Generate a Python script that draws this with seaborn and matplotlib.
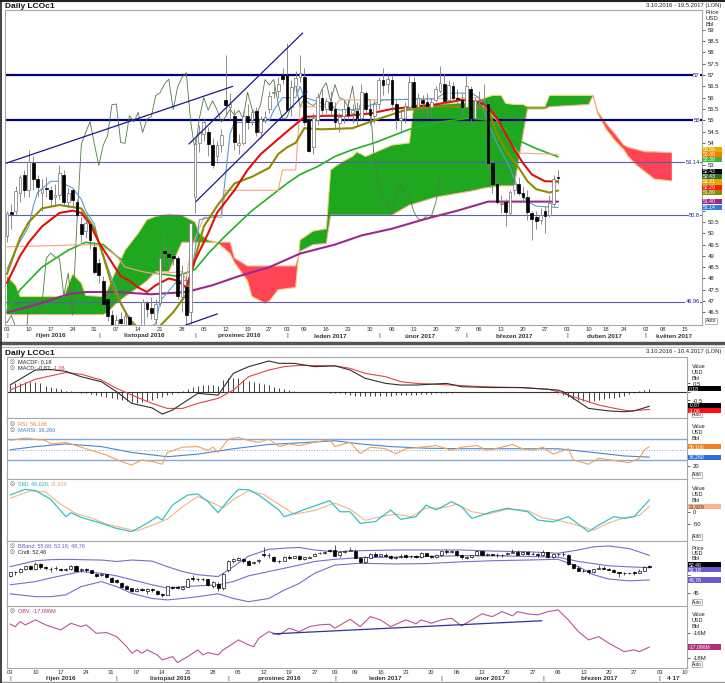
import numpy as np
import pandas as pd
import matplotlib
matplotlib.use("Agg")
import matplotlib.pyplot as plt
import matplotlib.transforms as mtrans
from matplotlib.patches import Rectangle
import seaborn as sns

# ---------------- data (index 0 = 3 Oct 2016, trading days) ----------------
opens = [49.9, 50.9, 51.0, 51.8, 52.6, 51.9, 53.1, 52.4, 51.8, 52.0,
         51.9, 51.6, 51.7, 52.6, 51.4, 51.9, 51.4, 50.4, 50.1, 50.4,
         49.4, 48.7, 47.9, 47.1, 46.4, 45.7, 46.2, 45.8, 46.3, 45.8,
         44.8, 44.6, 46.9, 46.7, 46.2, 46.9, 49.2, 49.1, 49.0, 48.9,
         47.2, 47.6, 46.5, 51.6, 54.0, 54.4, 54.5, 53.9, 53.4, 53.9,
         55.9, 55.6, 55.2, 53.9, 54.0, 55.2, 55.0, 55.4, 54.5, 55.0,
         55.5, 56.2, 56.3, 57.0, 57.0, 55.6, 56.5, 56.9, 56.9, 55.0,
         53.8, 55.0, 56.0, 55.5, 55.8, 55.5, 54.9, 55.2, 55.6, 55.3,
         55.4, 55.1, 56.2, 55.5, 55.2, 55.7, 56.8, 56.6, 56.8, 55.7,
         55.0, 55.1, 55.6, 56.7, 55.6, 55.9, 55.8, 55.6, 55.9, 56.3,
         56.6, 55.9, 56.5, 56.0, 55.9, 55.6, 56.4, 55.1, 55.9, 55.9,
         55.7, 53.1, 52.2, 51.3, 51.4, 50.9, 51.9, 52.2, 51.8, 51.6,
         50.9, 50.7, 50.6, 51.0, 50.8, 51.3, 52.5]
highs = [51.0, 51.3, 52.1, 52.6, 52.8, 53.7, 53.4, 52.6, 52.4, 52.5,
         52.1, 52.2, 53.0, 52.8, 52.0, 52.0, 51.5, 50.7, 50.8, 50.5,
         49.6, 48.9, 48.1, 47.3, 46.6, 46.4, 46.5, 46.6, 46.4, 45.9,
         45.2, 47.1, 47.0, 47.2, 47.1, 49.3, 50.0, 49.4, 49.2, 49.0,
         48.6, 48.1, 50.6, 54.2, 54.8, 55.1, 54.7, 54.2, 54.1, 54.6,
         57.9, 56.2, 55.5, 54.4, 55.4, 55.7, 55.5, 55.6, 55.2, 55.4,
         56.3, 56.5, 56.9, 57.3, 58.4, 56.8, 57.2, 57.9, 57.3, 55.2,
         55.3, 56.2, 56.4, 56.0, 56.3, 55.8, 55.3, 55.9, 55.9, 55.7,
         55.8, 56.6, 56.3, 55.7, 55.9, 56.9, 57.3, 57.0, 57.0, 55.9,
         55.5, 55.8, 57.0, 56.9, 56.2, 56.1, 56.2, 56.0, 56.5, 57.4,
         57.1, 56.8, 56.7, 56.4, 56.2, 57.0, 56.5, 56.0, 56.3, 56.6,
         55.9, 53.3, 52.5, 51.7, 51.5, 51.9, 52.8, 52.5, 52.1, 51.9,
         51.0, 51.0, 51.1, 51.2, 51.7, 52.6, 52.8]
lows = [49.6, 50.2, 50.8, 51.4, 51.6, 51.6, 51.9, 51.6, 51.0, 51.6,
        51.2, 51.2, 51.5, 51.2, 51.1, 51.1, 50.7, 49.6, 49.8, 49.3,
        48.2, 47.8, 46.6, 46.1, 45.4, 45.5, 45.6, 44.8, 45.5, 44.5,
        43.9, 44.5, 46.3, 46.2, 46.0, 46.8, 48.5, 48.5, 48.6, 47.1,
        46.5, 45.8, 46.0, 50.9, 53.6, 54.1, 53.4, 52.9, 53.1, 53.6,
        55.2, 55.0, 53.7, 53.5, 53.9, 54.6, 54.8, 54.3, 54.2, 54.9,
        55.3, 56.0, 56.0, 56.6, 55.4, 55.2, 56.2, 56.7, 54.8, 53.6,
        53.5, 54.8, 55.2, 55.3, 55.2, 54.6, 54.5, 54.9, 55.0, 54.9,
        54.8, 55.0, 55.3, 54.8, 54.9, 55.5, 56.1, 56.2, 55.4, 54.6,
        54.5, 54.9, 55.5, 55.5, 55.3, 55.3, 55.2, 55.1, 55.8, 56.2,
        55.7, 55.8, 55.8, 55.6, 55.2, 55.5, 54.9, 55.0, 55.5, 55.4,
        52.8, 51.8, 51.3, 50.9, 50.3, 50.8, 51.7, 51.7, 51.4, 50.6,
        49.7, 50.2, 50.4, 50.0, 50.7, 51.2, 52.2]
closes = [50.89, 50.87, 51.86, 52.51, 51.93, 53.14, 52.41, 52.03, 51.94, 51.95,
          51.52, 51.68, 52.67, 51.38, 51.78, 51.46, 50.79, 49.98, 50.47, 49.71,
          48.30, 48.14, 46.86, 46.35, 45.58, 46.15, 46.04, 46.36, 45.84, 44.75,
          44.43, 46.95, 46.63, 46.49, 46.86, 48.90, 49.12, 48.95, 48.89, 47.24,
          48.24, 46.38, 50.47, 53.94, 54.46, 54.94, 53.93, 53.00, 53.89, 54.33,
          55.69, 55.72, 54.02, 53.98, 55.21, 54.92, 55.35, 54.46, 55.05, 55.16,
          56.09, 56.22, 56.60, 56.82, 55.47, 56.46, 56.89, 57.10, 54.94, 53.64,
          55.10, 56.01, 55.45, 55.86, 55.47, 54.92, 55.16, 55.49, 55.23, 55.44,
          55.08, 56.24, 55.52, 55.23, 55.70, 56.80, 56.56, 56.81, 55.72, 55.05,
          55.12, 55.63, 56.70, 55.59, 55.97, 55.75, 55.65, 55.81, 56.38, 56.66,
          55.84, 56.58, 55.99, 55.93, 55.59, 56.51, 55.08, 55.90, 55.90, 55.92,
          53.11, 52.19, 51.37, 51.35, 50.92, 51.81, 52.19, 51.76, 51.62, 50.96,
          50.64, 50.56, 50.80, 50.75, 51.33, 52.42, 52.43]

# moving averages / ichimoku lines, read at sample days
red_i = [0, 3, 5, 8, 12, 15, 17, 19, 21, 24, 26, 28, 30, 32, 34, 37, 39, 41, 43, 46, 48, 52,
         55, 58, 61, 64, 68, 73, 78, 83, 88, 93, 98, 104, 108, 110, 112, 114, 116, 118, 120, 123, 126]
red_v = [47.8, 49.0, 49.6, 50.3, 50.9, 51.0, 50.9, 50.4, 49.6, 48.7, 48.1, 47.9, 47.6, 47.4, 47.7,
         48.0, 47.9, 47.6, 48.8, 50.0, 50.9, 51.9, 52.8, 53.5, 54.0, 54.5, 55.15, 55.2, 55.2, 55.3,
         55.5, 55.6, 55.7, 55.9, 55.8, 55.6, 55.1, 54.4, 53.7, 53.1, 52.6, 52.3, 52.29]
olive_i = [0, 3, 5, 8, 12, 17, 20, 22, 24, 26, 28, 31, 35, 38, 41, 43, 45, 48, 52, 56, 60, 62, 64,
           66, 68, 72, 79, 84, 91, 98, 106, 110, 112, 114, 117, 119, 121, 124, 126]
olive_v = [48.2, 49.8, 50.5, 51.1, 51.25, 51.1, 50.2, 49.0, 47.7, 46.9, 46.2, 45.6, 45.9, 46.5,
           47.3, 48.9, 50.3, 51.2, 52.2, 52.5, 52.9, 53.5, 53.8, 54.0, 54.65, 54.6, 54.65, 55.0,
           55.45, 55.6, 55.6, 55.5, 54.4, 53.7, 52.9, 52.3, 51.95, 51.8, 51.89]
green_i = [0, 3, 8, 14, 18, 22, 25, 29, 35, 39, 43, 46, 50, 56, 60, 64, 67, 71, 75, 79, 84, 88,
           92, 98, 106, 110, 114, 117, 121, 126]
green_v = [46.6, 47.5, 48.5, 49.25, 49.6, 49.5, 49.0, 48.4, 48.2, 48.1, 48.4, 49.1, 49.9, 51.0,
           51.6, 52.2, 52.6, 52.95, 53.4, 53.7, 54.0, 54.3, 54.6, 54.9, 55.1, 55.0, 54.6, 54.1,
           53.75, 53.38]
purple_i = [0, 6, 14, 18, 25, 33, 41, 47, 53, 60, 67, 75, 81, 88, 96, 103, 110, 126]
purple_v = [46.5, 46.8, 47.3, 47.4, 47.4, 47.3, 47.4, 47.7, 48.1, 48.5, 49.1, 49.5, 49.9, 50.2,
            50.65, 51.0, 51.4, 51.40]
tenkan_i = [0, 2, 5, 6, 7, 10, 12, 15, 17, 18, 20, 21, 23, 25, 26, 28, 30, 34, 35, 39, 42, 44,
            49, 51, 52, 57, 60, 61, 63, 66, 67, 68, 70, 76, 81, 86, 98, 100, 106, 108, 109, 110,
            112, 115, 117, 119, 121, 126]
tenkan_v = [48.4, 49.3, 50.3, 51.2, 51.8, 52.3, 52.3, 52.0, 51.5, 51.0, 50.4, 49.6, 48.5, 47.5,
            46.9, 46.2, 45.5, 46.0, 47.0, 47.9, 47.9, 50.6, 50.8, 54.4, 54.9, 54.9, 55.0, 55.45,
            56.0, 56.0, 56.5, 56.0, 55.9, 55.45, 55.5, 55.9, 55.95, 56.2, 56.2, 56.0, 55.45, 54.9,
            54.0, 52.9, 51.9, 51.4, 51.2, 51.14]
kijun_i = [0, 19, 22, 25, 27, 31, 34, 40, 41, 42, 45, 49, 50, 62, 63, 66, 67, 75, 76, 84, 108,
           109, 112, 114, 115, 117, 126]
kijun_v = [49.4, 49.5, 49.4, 49.0, 48.5, 48.3, 48.2, 48.3, 47.9, 49.3, 50.7, 50.7, 51.9, 51.9,
           52.8, 52.8, 55.6, 55.6, 55.9, 55.9, 56.0, 55.6, 55.0, 54.4, 54.0, 53.55, 53.49]

# cloud (already displaced 26 days forward)
cloud_j = [0, 2, 3, 13, 14, 15, 17, 18, 22, 23, 25, 27, 30, 32, 34, 37, 40, 43, 44, 46, 48, 51,
           52, 55, 56, 59, 60, 62, 66, 67, 70, 73, 74, 75, 77, 79, 80, 82, 88, 92, 93, 98, 107,
           109, 111, 113, 114, 116, 118, 119, 123, 124, 133, 134, 135, 137, 139, 141, 142, 144,
           146, 148, 152]
span_a = [48.1, 47.7, 47.2, 47.2, 47.7, 48.2, 47.8, 47.25, 47.2, 47.5, 48.4, 49.25, 50.0, 50.6,
          50.75, 50.85, 50.8, 50.5, 50.0, 49.7, 49.6, 49.1, 48.7, 47.9, 47.2, 46.9, 47.0, 47.5,
          47.6, 49.7, 50.1, 50.2, 52.8, 52.95, 53.2, 53.4, 53.6, 53.4, 53.9, 54.0, 55.7, 55.7,
          55.8, 55.97, 56.1, 56.1, 55.75, 55.7, 55.7, 55.6, 55.6, 56.1, 56.1, 56.1, 55.3, 54.6,
          54.1, 53.7, 53.4, 53.0, 52.7, 52.4, 52.31]
span_b = [46.4, 46.4, 46.4, 46.4, 46.4, 46.4, 46.4, 46.4, 46.4, 46.5, 46.9, 47.2, 47.6, 47.9,
          48.3, 48.3, 49.6, 49.6, 49.6, 49.6, 49.6, 49.6, 48.9, 48.55, 48.55, 48.55, 48.55, 48.55,
          48.55, 49.2, 49.5, 49.55, 50.8, 50.8, 50.8, 50.8, 50.8, 50.8, 50.8, 51.25, 51.3, 51.6,
          51.9, 52.0, 52.05, 52.1, 52.1, 52.1, 54.4, 55.5, 55.5, 55.6, 55.7, 56.1, 55.4, 54.85,
          54.4, 53.9, 53.8, 53.7, 53.6, 53.6, 53.56]

level_values = [57, 55, 53.14, 50.8, 46.96]
level_labels = ["57", "55", "53.14", "50.8", "46.96"]
level_thick = [True, True, False, False, False]

trend_x0 = [-0.2, 41.6, 43.2, 40.9]
trend_y0 = [53.1, 53.95, 51.4, 45.94]
trend_x1 = [51.6, 67.6, 68.6, 48.1]
trend_y1 = [56.5, 58.86, 56.26, 46.43]

top_tag_values = [53.56, 53.49, 53.38, 52.43, 52.43, 52.31, 52.29, 51.89, 51.40, 51.14]
top_tag_colors = ["#e0ac00", "#ff7800", "#38b838", "#000000", "#3d6b35", "#e0ac00",
                  "#ff1a1a", "#8c8c00", "#9c2a8c", "#2f7fe0"]

# MACD
macd_i = [0, 5, 8, 11, 14, 18, 21, 24, 28, 30, 32, 35, 37, 41, 44, 47, 51, 53, 56, 60, 64, 67,
          70, 74, 77, 80, 86, 89, 95, 101, 108, 109, 112, 114, 118, 121, 123, 126]
macd_v = [0.4, 1.3, 1.33, 1.22, 0.9, 0.6, 0.0, -0.7, -0.97, -1.34, -1.1, -0.5, -0.1, -0.2, 1.1,
          1.5, 1.84, 1.7, 1.7, 1.5, 1.55, 1.3, 0.8, 0.5, 0.4, 0.4, 0.5, 0.3, 0.25, 0.25, 0.1, 0.0,
          -0.6, -1.0, -1.15, -1.2, -1.15, -0.87]
signal_i = [0, 5, 11, 14, 18, 21, 24, 28, 31, 34, 37, 41, 44, 47, 51, 54, 57, 64, 67, 70, 74, 77,
            80, 87, 93, 100, 106, 108, 112, 116, 120, 122, 126]
signal_v = [0.1, 0.75, 1.15, 1.05, 0.7, 0.2, -0.2, -0.7, -1.0, -1.0, -0.7, -0.4, 0.1, 0.9, 1.3,
            1.5, 1.58, 1.55, 1.4, 1.1, 0.9, 0.6, 0.5, 0.4, 0.3, 0.25, 0.15, 0.0, -0.4, -0.8,
            -1.05, -1.15, -1.06]
macd_hist = [0.40, 0.50, 0.54, 0.56, 0.58, 0.56, 0.50, 0.36, 0.30, 0.20,
             0.14, 0.06, 0.02, 0.00, -0.05, -0.10, -0.15, -0.20, -0.26, -0.32,
             -0.38, -0.45, -0.52, -0.58, -0.63, -0.65, -0.60, -0.55, -0.48, -0.40,
             -0.30, -0.20, -0.12, -0.06, 0.05, 0.15, 0.30, 0.35, 0.40, 0.40,
             0.38, 0.35, 0.70, 0.80, 0.85, 0.85, 0.70, 0.65, 0.60, 0.50,
             0.45, 0.38, 0.30, 0.22, 0.15, 0.10, 0.05, -0.02, -0.02, -0.02,
             -0.02, -0.03, -0.03, -0.05, -0.05, -0.08, -0.12, -0.20, -0.25, -0.28,
             -0.28, -0.28, -0.26, -0.26, -0.25, -0.24, -0.22, -0.22, -0.20, -0.20,
             -0.18, -0.16, -0.14, -0.12, -0.10, -0.08, -0.06, -0.05, -0.04, -0.03,
             -0.02, -0.02, -0.02, -0.02, -0.02, -0.02, -0.02, -0.02, -0.02, -0.02,
             -0.02, -0.02, -0.02, -0.02, -0.02, -0.02, -0.02, -0.02, -0.10, -0.20,
             -0.30, -0.45, -0.52, -0.55, -0.60, -0.55, -0.50, -0.45, -0.40, -0.35,
             -0.30, -0.25, -0.15, -0.05, 0.05, 0.10, 0.18]

# RSI
rsi_i = [0, 3, 5, 7, 8, 11, 14, 16, 19, 22, 24, 26, 28, 30, 31, 34, 37, 39, 40, 41, 43, 45, 47,
         49, 51, 53, 55, 57, 60, 63, 64, 67, 69, 71, 74, 76, 78, 81, 84, 87, 89, 92, 94, 97, 99,
         101, 103, 105, 107, 110, 111, 114, 116, 119, 122, 124, 125, 126]
rsi_v = [67.7, 72, 69.6, 67.7, 61, 64, 55, 49, 40, 27.7, 21.5, 31, 28, 23, 45, 55, 56, 49, 55,
         45, 70, 73, 67.7, 64, 70, 56, 61, 58, 64, 69, 56, 64, 43, 55, 52, 42.5, 52, 55, 58, 49,
         55, 58, 49, 55, 60, 52, 49, 55, 42, 52, 31, 23, 34, 30, 26, 34, 50, 56.1]
marsi_i = [0, 5, 11, 18, 24, 31, 37, 44, 51, 57, 64, 69, 75, 82, 89, 95, 102, 108, 115, 121, 126]
marsi_v = [50, 56, 61, 56, 45, 37, 42, 52, 60, 63, 67, 61, 56, 53, 52, 52, 52, 52, 45, 38.5, 36.26]

# SMI
smi_i = [0, 3, 5, 8, 11, 12, 14, 18, 21, 24, 27, 29, 30, 32, 35, 37, 39, 41, 43, 45, 47, 49, 53,
         54, 56, 58, 63, 65, 67, 69, 72, 75, 77, 80, 82, 84, 87, 89, 91, 95, 98, 102, 104, 107,
         110, 114, 116, 119, 121, 123, 126]
smi_v = [68, 91, 86, 51, -20, -4, -23, -47, -68, -81, -47, -20, -34, 27, 68, 72, 41, -4, 47, 91,
         89, 68, 7, -20, -7, 9, 45, 0, 0, -47, -40, 7, -31, -20, 27, 7, 41, 20, -27, 0, 14, 0,
         -34, -41, -20, -81, -54, -20, -27, -20, 48.6]
smi_sig_i = [0, 4, 7, 10, 13, 16, 19, 22, 25, 28, 31, 34, 37, 40, 42, 44, 47, 50, 53, 56, 60, 64,
             67, 70, 73, 76, 79, 82, 85, 88, 91, 94, 98, 102, 105, 108, 111, 115, 118, 121, 124, 126]
smi_sig_v = [55, 85, 80, 30, -8, -25, -50, -65, -78, -55, -30, 20, 62, 35, 15, 50, 85, 70, 30,
             -10, 5, 35, 10, -35, -20, -10, -20, 15, 15, 30, 0, -10, 10, 5, -25, -35, -50, -75,
             -45, -25, -15, 21.9]

# Bollinger bands
bb_i = [0, 5, 8, 11, 14, 18, 21, 24, 28, 31, 34, 37, 41, 44, 47, 51, 54, 57, 60, 64, 69, 76, 82,
        89, 95, 102, 108, 112, 115, 118, 122, 126]
bb_upper = [52.45, 54.1, 54.4, 54.5, 54.4, 54.3, 53.9, 54.3, 54.0, 52.45, 51.1, 50.2, 49.7, 52.45,
            55.4, 57.3, 57.6, 57.8, 57.1, 56.6, 56.9, 57.1, 57.1, 57.1, 56.8, 56.6, 56.2, 57.1,
            58.0, 58.2, 57.5, 55.6]
bb_mid = [47.4, 48.3, 49.3, 50.2, 51.1, 50.6, 49.9, 48.8, 47.4, 46.5, 46.9, 47.1, 47.4, 48.3, 49.9,
          51.1, 52.0, 52.9, 53.9, 54.5, 55.0, 55.1, 55.3, 55.5, 55.5, 55.3, 55.1, 53.9, 53.3, 52.7,
          52.4, 52.18]
bb_lower = [44.9, 44.1, 44.1, 44.6, 46.9, 48.3, 46.9, 45.0, 43.6, 43.2, 43.6, 44.1, 44.9, 43.6,
            42.7, 43.6, 45.9, 47.8, 50.6, 52.9, 53.4, 53.2, 53.3, 53.8, 54.1, 54.3, 54.5, 52.45,
            50.2, 49.0, 48.5, 48.76]

# OBV (millions)
obv_i = [0, 1, 2, 3, 5, 7, 8, 10, 12, 14, 15, 17, 19, 21, 23, 24, 25, 26, 27, 29, 30, 32, 33, 35,
         37, 38, 39, 41, 42, 43, 45, 47, 48, 49, 51, 53, 55, 57, 59, 61, 63, 64, 67, 69, 71, 73,
         75, 78, 80, 81, 83, 85, 87, 89, 91, 93, 95, 97, 99, 100, 102, 104, 106, 108, 110, 112,
         114, 116, 118, 121, 123, 124, 126]
obv_v = [-15.26, -15.47, -15.07, -15.33, -14.93, -15.33, -15.47, -15.73, -15.2, -15.47, -15.33,
         -16.0, -15.95, -16.27, -17.07, -17.6, -17.33, -17.6, -17.33, -17.73, -18.13, -17.87,
         -18.35, -17.87, -17.33, -17.73, -17.55, -17.73, -17.33, -17.07, -16.53, -16.93, -17.07,
         -16.4, -15.87, -16.13, -15.6, -15.87, -15.47, -15.33, -15.28, -15.6, -14.88, -15.47,
         -14.67, -14.93, -15.47, -14.93, -15.25, -14.93, -15.2, -14.93, -14.8, -15.41, -14.93,
         -14.45, -14.67, -14.27, -14.61, -14.27, -14.45, -14.53, -14.27, -14.13, -14.93, -15.87,
         -16.53, -16.27, -16.8, -17.47, -17.33, -17.47, -17.1]
obv_trend = [(51.8, -16.05), (104.8, -15.0)]

week_labels = ["03", "10", "17", "24", "31", "07", "14", "21", "28", "05", "12", "19", "27", "03",
               "09", "16", "23", "30", "06", "13", "20", "27", "06", "13", "20", "27", "03", "10",
               "18", "24", "02", "08", "15"]
month_names = ["říjen 2016", "listopad 2016", "prosinec 2016", "leden 2017", "únor 2017",
               "březen 2017", "duben 2017", "květen 2017"]
low_month_names = month_names[:6] + ["4 17"]
holidays = ["2016-12-26", "2017-01-02", "2017-04-14", "2017-04-17", "2017-05-01"]

# ---------------- trading calendar ----------------
days = pd.bdate_range("2016-10-03", "2017-05-19")
days = days[~days.isin(pd.to_datetime(holidays))]
cal = pd.Series(np.arange(len(days)), index=days)
week_start = cal.groupby(days.to_period("W")).first().values
month_start = cal.groupby(days.to_period("M")).first().values
month_end = cal.groupby(days.to_period("M")).last().values

# ---------------- figure ----------------
sns.set_theme(style="white")
plt.rcParams["font.family"] = ["Liberation Sans", "DejaVu Sans"]

W, H = 725, 683
fig = plt.figure(figsize=(W / 100, H / 100), dpi=100)
fig.patch.set_facecolor("white")
renderer = fig.canvas.get_renderer()


def rect(x0, y0, x1, y1):
    return [x0 / W, 1 - y1 / H, (x1 - x0) / W, (y1 - y0) / H]


def ftext(x, y, s, **kw):
    kw.setdefault("fontsize", 4.3)
    kw.setdefault("va", "center")
    kw.setdefault("color", "#222222")
    return fig.text(x / W, 1 - y / H, s, **kw)


def style_panel(ax, xlim, ylim):
    ax.set_xlim(*xlim)
    ax.set_ylim(*ylim)
    ax.set_facecolor("white")
    for s in ax.spines.values():
        s.set_color("#a8a8a8")
        s.set_linewidth(0.8)
    ax.set_xticks([])
    ax.yaxis.tick_right()
    ax.tick_params(axis="y", right=True, left=False, labelright=True, labelleft=False,
                   direction="out", length=2.5, width=0.5, pad=1.5, labelsize=4.3,
                   colors="#222222")


def yticks(ax, values, labels, hidden):
    # tick labels that sit under a value tag are left blank, as in the screenshot
    shown = []
    for v, lab in zip(values, labels):
        p = ax.transData.transform((0, v))[1]
        shown.append("" if any(lo - 2 <= p <= hi + 2 for lo, hi in hidden) else lab)
    ax.set_yticks(values)
    ax.set_yticklabels(shown)


def line(ax, xs, ys, color, lw, z=3):
    sns.lineplot(x=list(xs), y=list(ys), ax=ax, color=color, linewidth=lw,
                 estimator=None, sort=False, legend=False, zorder=z)
    ax.set_xlabel("")
    ax.set_ylabel("")


def candles(ax, width, wick, up_edge, lw):
    idx = np.arange(len(closes))
    o, c = np.array(opens), np.array(closes)
    up = c >= o
    lo = np.minimum(o, c)
    hgt = np.maximum(np.abs(c - o), 0.06)
    ax.vlines(idx, lows, highs, color=wick, lw=lw, zorder=4)
    ax.bar(idx[up], hgt[up], bottom=lo[up], width=width, color="white", edgecolor=up_edge,
           linewidth=0.5, zorder=5)
    ax.bar(idx[~up], hgt[~up], bottom=lo[~up], width=width, color="black", edgecolor="black",
           linewidth=0.5, zorder=5)


def stack(ideal, step):
    clusters = [[v] for v in ideal]
    changed = True
    while changed:
        changed = False
        out = []
        for cl in clusters:
            if out:
                prev = out[-1]
                pb = np.mean(prev) - (len(prev) - 1) * step / 2
                ct = np.mean(cl) + (len(cl) - 1) * step / 2
                if pb - ct < step:
                    out[-1] = prev + cl
                    changed = True
                    continue
            out.append(cl)
        clusters = out
    pos = []
    for cl in clusters:
        n = len(cl)
        pos += [np.mean(cl) + ((n - 1) / 2 - k) * step for k in range(n)]
    return pos


def tags(ax, values, labels, colors, tcolors, x0, x1, step=5.2, fs=3.7):
    ideal = [ax.transData.transform((0, v))[1] for v in values]
    order = np.argsort(ideal)[::-1]
    pos = stack([ideal[k] for k in order], step)
    for k, p in zip(order, pos):
        fig.add_artist(Rectangle((x0 / W, (p - step / 2) / H), (x1 - x0) / W, step / H,
                                 transform=fig.transFigure, fc=colors[k], ec="none", zorder=10))
        fig.text((x0 + 1) / W, p / H, labels[k], fontsize=fs, color=tcolors[k], va="center",
                 ha="left", zorder=11)
    return [(min(pos) - step / 2, max(pos) + step / 2)]


def date_axis(ax, n_weeks, months, y_day, y_month, xmax):
    tr = mtrans.blended_transform_factory(ax.transData, fig.transFigure)
    for k in range(n_weeks):
        ax.text(week_start[k], 1 - y_day / H, week_labels[k], transform=tr, fontsize=4.2,
                ha="center", va="center", color="#333333", clip_on=False)
    for m, name in enumerate(months):
        a, b = month_start[m], min(month_end[m], xmax)
        ax.text((a + b) / 2, 1 - y_month / H, name, transform=tr, fontsize=4.6,
                fontweight="bold", ha="center", va="center", color="#333333", clip_on=False)
        ax.text(a, 1 - y_month / H, "|", transform=tr, fontsize=4.6, ha="center",
                va="center", color="#333333", clip_on=False)


# ---- top price panel ----
ax = fig.add_axes(rect(5, 10, 702, 325))
top_xlim = (-0.45, 158.9)
style_panel(ax, top_xlim, (45.94, 59.88))

ca, cb = np.array(span_a), np.array(span_b)
ax.fill_between(cloud_j, ca, cb, where=ca >= cb, interpolate=True, color="#1fa81f", lw=0, zorder=1)
ax.fill_between(cloud_j, ca, cb, where=ca < cb, interpolate=True, color="#ff4456", lw=0, zorder=1)
line(ax, cloud_j, span_a, "#f3d27c", 0.8, z=1.5)
line(ax, cloud_j, span_b, "#f2b088", 0.8, z=1.5)

for v, lab, thick in zip(level_values, level_labels, level_thick):
    ax.axhline(v, color="#00007a" if thick else "#5d5db0", lw=1.6 if thick else 0.8, zorder=2)
    ax.text(0.997, v, lab, transform=ax.get_yaxis_transform(), fontsize=4.3 if thick else 4.1,
            color="#1a1a80", ha="right", va="center", zorder=6,
            bbox=dict(fc="white", ec="none", pad=0.3))

line(ax, np.arange(len(closes)) - 26, closes, "#4f7a44", 0.6, z=2.5)
line(ax, purple_i, purple_v, "#9c2a8c", 1.5)
line(ax, green_i, green_v, "#25b025", 1.2)
line(ax, kijun_i, kijun_v, "#f6a67e", 0.8)
line(ax, tenkan_i, tenkan_v, "#5b9bd5", 0.8)
line(ax, olive_i, olive_v, "#8f8a00", 1.5)
line(ax, red_i, red_v, "#e01010", 1.5)
candles(ax, 0.62, "#7a7a7a", "#707070", 0.6)
for xa, ya, xb, yb in zip(trend_x0, trend_y0, trend_x1, trend_y1):
    ax.plot([xa, xb], [ya, yb], color="#1a1a8c", lw=0.9, zorder=6)

date_axis(ax, len(week_labels), month_names, 329.5, 336, top_xlim[1])
ftext(705, 13, "Price", fontsize=4.2)
ftext(705, 19, "USD", fontsize=4.2)
ftext(705, 25, "Bbl", fontsize=4.2)
ftext(706, 321, "Auto", fontsize=3.6, bbox=dict(fc="white", ec="#888888", lw=0.4, pad=0.4))
top_hidden = []
top_hidden += tags(ax, top_tag_values[:3], [f"{v:.2f}" for v in top_tag_values[:3]],
                   top_tag_colors[:3], ["white"] * 3, 702, 722)
top_hidden += tags(ax, top_tag_values[3:], [f"{v:.2f}" for v in top_tag_values[3:]],
                   top_tag_colors[3:], ["white"] * 7, 702, 722)
yt = np.arange(46.5, 59.01, 0.5)
yticks(ax, yt, [f"{v:g}" for v in yt], top_hidden)

ftext(5, 6, "Daily LCOc1", fontsize=6, fontweight="bold", color="#111111")
ftext(721, 6, "3.10.2016 - 19.5.2017 (LON)", fontsize=4.2, ha="right")

# ---- lower indicator panels ----
low_xlim = (-0.6, 133.4)
ftext(5, 353, "Daily LCOc1", fontsize=6, fontweight="bold", color="#111111")
ftext(721, 352, "3.10.2016 - 10.4.2017 (LON)", fontsize=4.2, ha="right")


def side_labels(top, bottom, first="Value", gap=6, start=9):
    ftext(692, top + start, first, fontsize=4.0)
    ftext(692, top + start + gap, "USD", fontsize=4.0)
    ftext(692, top + start + 2 * gap, "Bbl", fontsize=4.0)
    ftext(692, bottom - 4, "Auto", fontsize=3.4,
          bbox=dict(fc="white", ec="#888888", lw=0.4, pad=0.3))


def legend_row(y, parts):
    ftext(10, y, "◎", fontsize=4.2, color="#666666")
    x = 18
    for txt, col in parts:
        t = ftext(x, y, txt, fontsize=4.0, color=col)
        x += t.get_window_extent(renderer).width + 1


# MACD
ax1 = fig.add_axes(rect(7, 357, 687, 418))
style_panel(ax1, low_xlim, (-1.575, 2.08))
ax1.axhline(0, color="#333333", lw=0.8, zorder=2)
ax1.vlines(np.arange(len(macd_hist)), 0, macd_hist, color="#222222", lw=0.6, zorder=3)
line(ax1, signal_i, signal_v, "#e04848", 0.8)
line(ax1, macd_i, macd_v, "#303030", 0.8)
side_labels(357, 418)
legend_row(362, [("MACDF: 0,18", "#222222")])
legend_row(368, [("MACD: -0,87;", "#222222"), ("-1,06", "#e03030")])
hid = tags(ax1, [0.18], ["0,18"], ["#000000"], ["white"], 688, 721)
hid += tags(ax1, [-0.87, -1.06], ["-0,87", "-1,06"], ["#000000", "#ff1010"],
            ["white", "white"], 688, 721)
yticks(ax1, [0.5, 0, -0.5], ["0,5", "0", "-0,5"], hid)

# RSI
ax2 = fig.add_axes(rect(7, 418, 687, 479))
style_panel(ax2, low_xlim, (-4.7, 109.6))
for lv, ls, lw in [(70, "-", 1.0), (30, "-", 1.0), (50, ":", 0.7)]:
    ax2.axhline(lv, color="#86a8dc", ls=ls, lw=lw, zorder=2)
line(ax2, marsi_i, marsi_v, "#4a86c8", 0.8)
line(ax2, rsi_i, rsi_v, "#f0a25a", 0.8)
side_labels(418, 479)
legend_row(424, [("RSI: 56,106", "#f08a24")])
legend_row(430, [("MARSI: 36,260", "#3f7fd0")])
hid = tags(ax2, [56.1], ["56,106"], ["#f08020"], ["white"], 688, 721)
hid += tags(ax2, [36.26], ["36,260"], ["#2f70d8"], ["white"], 688, 721)
yticks(ax2, [40, 20], ["40", "20"], hid)

# SMI
ax3 = fig.add_axes(rect(7, 479, 687, 541))
style_panel(ax3, low_xlim, (-119, 133))
line(ax3, smi_sig_i, smi_sig_v, "#f4b48a", 0.8)
line(ax3, smi_i, smi_v, "#36c0c4", 0.9)
side_labels(479, 541)
legend_row(484, [("SMI: 48,620;", "#2cb0b8"), ("21,929", "#f0a070")])
hid = tags(ax3, [21.929], ["21,929"], ["#f7b48c"], ["#333333"], 688, 721)
yticks(ax3, [0, -50], ["0", "-50"], hid)

# Bollinger bands + candles
ax4 = fig.add_axes(rect(7, 541, 687, 606))
style_panel(ax4, low_xlim, (41.5, 59.6))
line(ax4, bb_i, bb_upper, "#7a6cc8", 0.8)
line(ax4, bb_i, bb_mid, "#7a6cc8", 0.8)
line(ax4, bb_i, bb_lower, "#7a6cc8", 0.8)
candles(ax4, 0.6, "#111111", "#111111", 0.5)
side_labels(541, 606, first="Price", gap=5.2, start=7.5)
legend_row(546, [("BBand: 55,60; 52,18; 48,76", "#6a5acd")])
legend_row(552, [("Cndl: 52,46", "#222222")])
hid = tags(ax4, [52.46, 52.18], ["52,46", "52,18"], ["#000000", "#6a5acd"],
           ["white", "white"], 688, 721)
hid += tags(ax4, [48.76], ["48,76"], ["#6a5acd"], ["white"], 688, 721)
yticks(ax4, [50, 45], ["50", "45"], hid)

# OBV
ax5 = fig.add_axes(rect(7, 606, 687, 668))
style_panel(ax5, low_xlim, (-18.78, -13.82))
line(ax5, obv_i, obv_v, "#b45896", 0.8)
ax5.plot([p[0] for p in obv_trend], [p[1] for p in obv_trend], color="#3030a0", lw=0.9, zorder=4)
side_labels(606, 668)
legend_row(611, [("OBV: -17,096M", "#b03080")])
hid = tags(ax5, [-17.096], ["-17,096M"], ["#b0307a"], ["white"], 688, 721)
yticks(ax5, [-16, -18], ["-16M", "-18M"], hid)

date_axis(ax5, 28, low_month_names, 672, 678.5, low_xlim[1])

# frame lines of the screenshot
for y, lw, col in [(0.5, 1.5, "#222222"), (343, 2.5, "#555555"), (346.5, 0.8, "#bbbbbb"),
                   (681.5, 1.0, "#999999")]:
    fig.add_artist(plt.Line2D([0, 1], [1 - y / H, 1 - y / H], transform=fig.transFigure,
                              color=col, lw=lw))
fig.add_artist(plt.Line2D([0.6 / W, 0.6 / W], [0, 1], transform=fig.transFigure,
                          color="#222222", lw=1.2))

fig.savefig("out.png", dpi=100, facecolor="white")
